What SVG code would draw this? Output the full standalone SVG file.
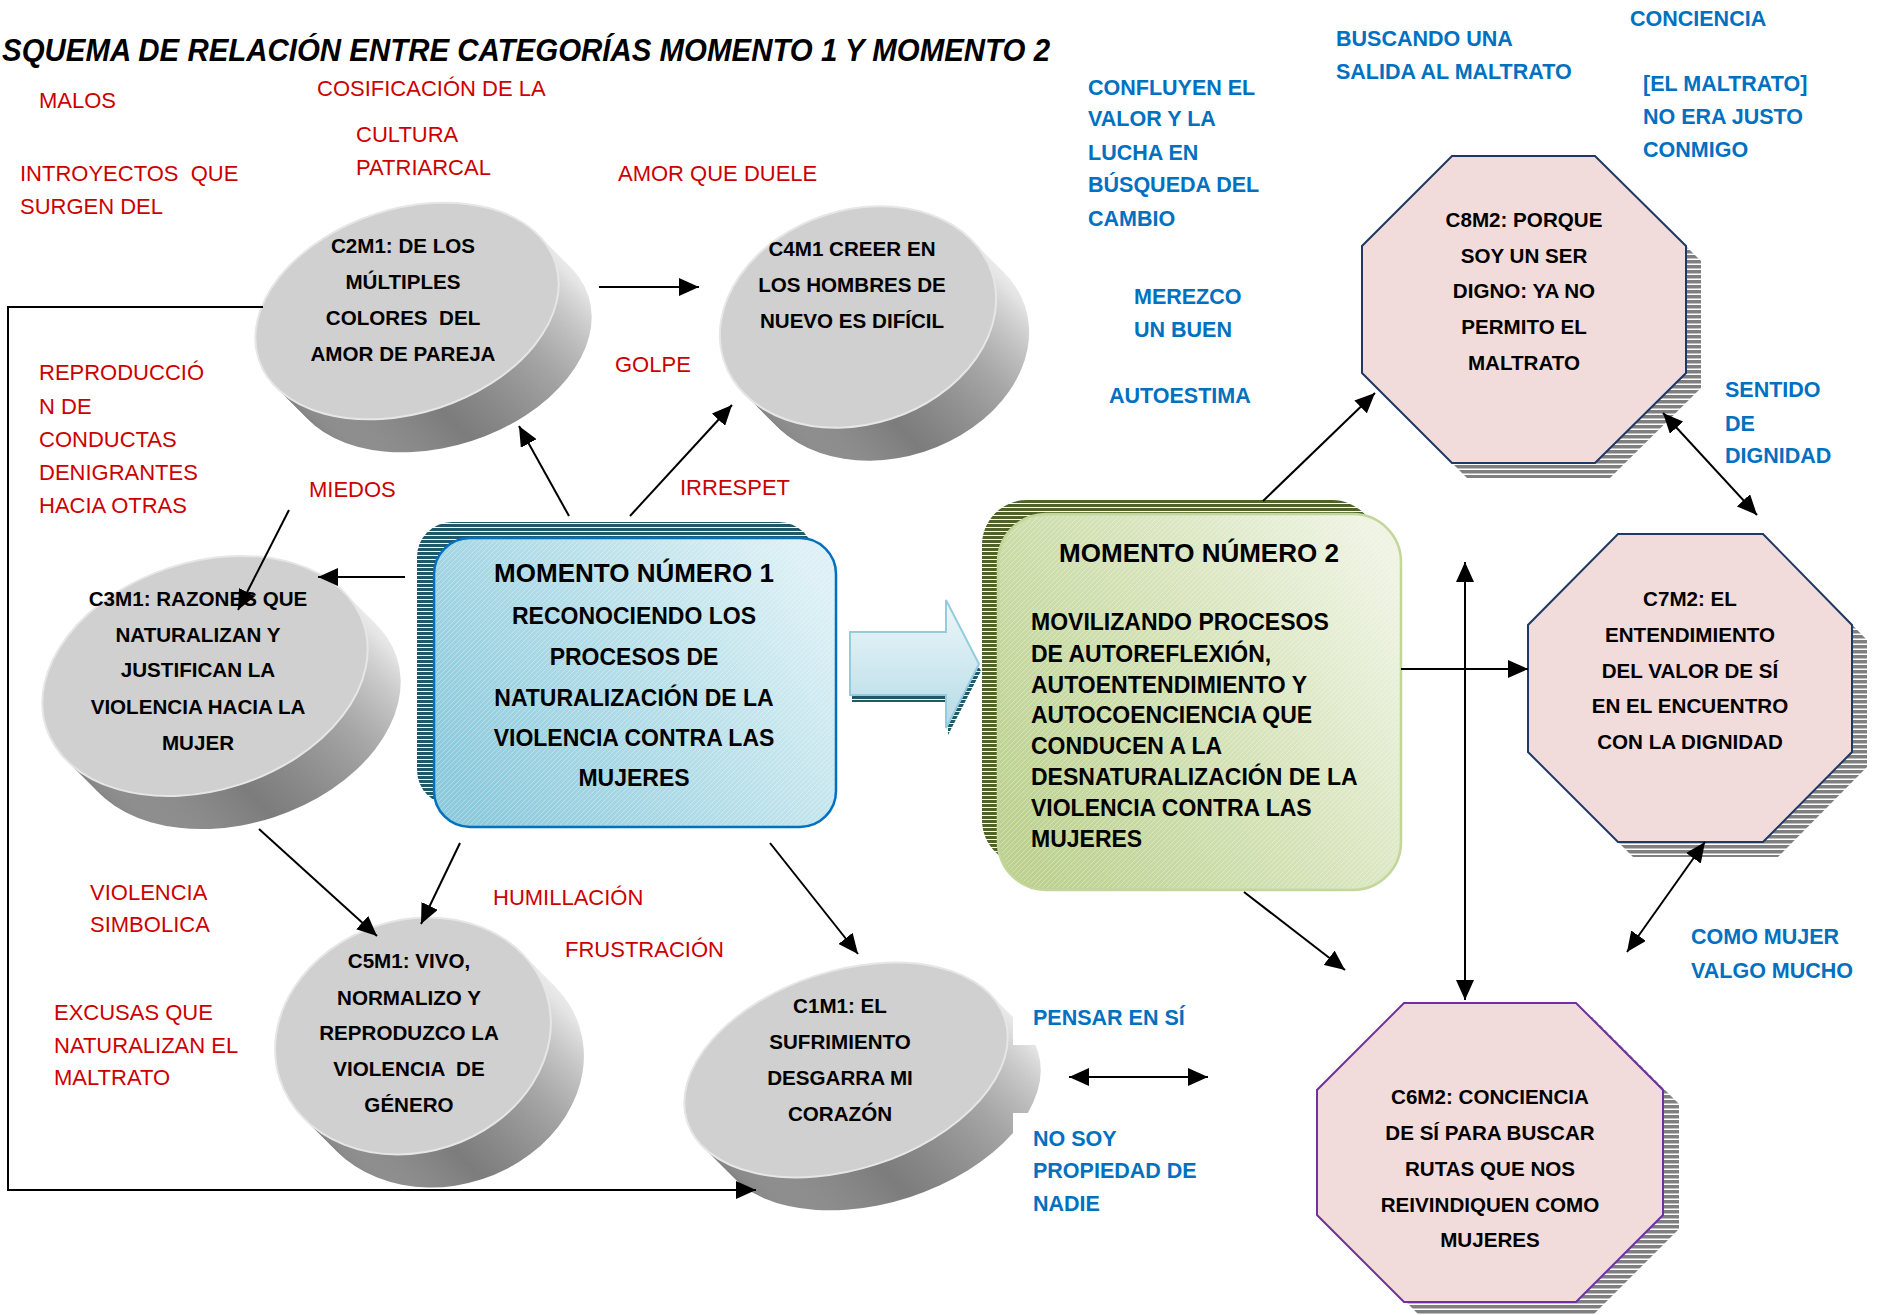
<svg xmlns="http://www.w3.org/2000/svg" xmlns:xlink="http://www.w3.org/1999/xlink" width="1890" height="1315" viewBox="0 0 1890 1315">
<style>
.red{font-family:"Liberation Sans",Arial,sans-serif;font-size:22px;fill:#cc0000;white-space:pre}
.blue{font-family:"Liberation Sans",Arial,sans-serif;font-size:21.5px;font-weight:bold;fill:#0070c0}
.nt{font-family:"Liberation Sans",Arial,sans-serif;font-size:20.6px;font-weight:bold;fill:#000;text-anchor:middle;white-space:pre}
.mt{font-family:"Liberation Sans",Arial,sans-serif;font-size:23px;font-weight:bold;fill:#000}
.mh{font-family:"Liberation Sans",Arial,sans-serif;font-size:26px;font-weight:bold;fill:#000;text-anchor:middle}
.face{fill:#d0d0d0;stroke:#e6e6e6;stroke-width:2}
.side{fill:url(#sideG)}
.oct{fill:#f2dcdb;stroke:#1f3864;stroke-width:2}
.octsh{fill:url(#stripeGray)}
.conn{stroke:#000;stroke-width:2;fill:none}
.one{marker-end:url(#ah)}
.two{marker-start:url(#ah);marker-end:url(#ah)}
</style>
<defs>
<marker id="ah" viewBox="0 0 20 18" refX="20" refY="9" markerWidth="20" markerHeight="18" markerUnits="userSpaceOnUse" orient="auto-start-reverse">
<path d="M0,0 L20,9 L0,18 Z" fill="#000"/>
</marker>
<linearGradient id="sideG" x1="1" y1="0" x2="0.2" y2="1">
<stop offset="0" stop-color="#ffffff"/>
<stop offset="0.3" stop-color="#e4e4e4"/>
<stop offset="0.6" stop-color="#a6a6a6"/>
<stop offset="0.85" stop-color="#7c7c7c"/>
<stop offset="1" stop-color="#9c9c9c"/>
</linearGradient>
<linearGradient id="m1G" x1="0" y1="0.75" x2="1" y2="0.25">
<stop offset="0" stop-color="#8ccadc"/>
<stop offset="0.55" stop-color="#b9e0ea"/>
<stop offset="1" stop-color="#dcf0f5"/>
</linearGradient>
<linearGradient id="m2G" x1="0" y1="0.75" x2="1" y2="0.2">
<stop offset="0" stop-color="#bdd291"/>
<stop offset="0.55" stop-color="#d7e4bb"/>
<stop offset="1" stop-color="#eef3e2"/>
</linearGradient>
<linearGradient id="arrG" x1="0" y1="0" x2="0" y2="1">
<stop offset="0" stop-color="#eef7fa"/>
<stop offset="1" stop-color="#b4dbe6"/>
</linearGradient>
<pattern id="stripeTeal" patternUnits="userSpaceOnUse" width="8" height="4">
<rect width="8" height="4" fill="#215868"/><rect y="3" width="8" height="1" fill="#ffffff"/>
</pattern>
<pattern id="stripeGreen" patternUnits="userSpaceOnUse" width="8" height="4">
<rect width="8" height="4" fill="#4f6228"/><rect y="3" width="8" height="1" fill="#ffffff"/>
</pattern>
<pattern id="stripeGray" patternUnits="userSpaceOnUse" width="8" height="5">
<rect width="8" height="5" fill="#7f7f7f"/><rect y="3.5" width="8" height="1.5" fill="#ffffff"/>
</pattern>
<pattern id="hatch" patternUnits="userSpaceOnUse" width="5" height="5">
<path d="M0,5 L5,0" stroke="#ffffff" stroke-opacity="0.4" stroke-width="0.8"/>
</pattern>
<clipPath id="clipC1"><path d="M0,0 H1013 V1045 H1041 V1113 H1013 V1315 H0 Z"/></clipPath>
<ellipse id="e2" cx="407" cy="311" rx="156" ry="102" transform="rotate(-18 407 311)"/>
<ellipse id="e4" cx="858" cy="317" rx="141" ry="107" transform="rotate(-18 858 317)"/>
<ellipse id="e3" cx="205" cy="676" rx="167" ry="114" transform="rotate(-18 205 676)"/>
<ellipse id="e5" cx="413" cy="1036" rx="140" ry="116" transform="rotate(-18 413 1036)"/>
<ellipse id="e1" cx="846" cy="1070" rx="167" ry="99" transform="rotate(-18 846 1070)"/>
</defs>
<rect width="1890" height="1315" fill="#ffffff"/>

<text x="2" y="61" textLength="1048" lengthAdjust="spacingAndGlyphs" font-family="'Liberation Sans',Arial,sans-serif" font-size="32" font-weight="bold" font-style="italic" fill="#000">SQUEMA DE RELACIÓN ENTRE CATEGORÍAS MOMENTO 1 Y MOMENTO 2</text>

<g id="labels-red">
<text class="red" x="39" y="108">MALOS</text>
<text class="red" x="317" y="96">COSIFICACIÓN DE LA</text>
<text class="red" x="356" y="142">CULTURA</text>
<text class="red" x="356" y="175">PATRIARCAL</text>
<text class="red" x="20" y="181">INTROYECTOS  QUE</text>
<text class="red" x="20" y="214">SURGEN DEL</text>
<text class="red" x="618" y="181">AMOR QUE DUELE</text>
<text class="red" x="615" y="372">GOLPE</text>
<text class="red" x="39" y="380">REPRODUCCIÓ</text>
<text class="red" x="39" y="414">N DE</text>
<text class="red" x="39" y="447">CONDUCTAS</text>
<text class="red" x="39" y="480">DENIGRANTES</text>
<text class="red" x="39" y="513">HACIA OTRAS</text>
<text class="red" x="309" y="497">MIEDOS</text>
<text class="red" x="680" y="495">IRRESPET</text>
<text class="red" x="90" y="900">VIOLENCIA</text>
<text class="red" x="90" y="932">SIMBOLICA</text>
<text class="red" x="493" y="905">HUMILLACIÓN</text>
<text class="red" x="565" y="957">FRUSTRACIÓN</text>
<text class="red" x="54" y="1020">EXCUSAS QUE</text>
<text class="red" x="54" y="1053">NATURALIZAN EL</text>
<text class="red" x="54" y="1085">MALTRATO</text>
</g>

<g id="labels-blue">
<text class="blue" x="1088" y="95">CONFLUYEN EL</text>
<text class="blue" x="1088" y="126">VALOR Y LA</text>
<text class="blue" x="1088" y="160">LUCHA EN</text>
<text class="blue" x="1088" y="192">BÚSQUEDA DEL</text>
<text class="blue" x="1088" y="226">CAMBIO</text>
<text class="blue" x="1336" y="46">BUSCANDO UNA</text>
<text class="blue" x="1336" y="79">SALIDA AL MALTRATO</text>
<text class="blue" x="1630" y="26">CONCIENCIA</text>
<text class="blue" x="1643" y="91">[EL MALTRATO]</text>
<text class="blue" x="1643" y="124">NO ERA JUSTO</text>
<text class="blue" x="1643" y="157">CONMIGO</text>
<text class="blue" x="1134" y="304">MEREZCO</text>
<text class="blue" x="1134" y="337">UN BUEN</text>
<text class="blue" x="1109" y="403">AUTOESTIMA</text>
<text class="blue" x="1725" y="397">SENTIDO</text>
<text class="blue" x="1725" y="431">DE</text>
<text class="blue" x="1725" y="463">DIGNIDAD</text>
<text class="blue" x="1691" y="944">COMO MUJER</text>
<text class="blue" x="1691" y="978">VALGO MUCHO</text>
<text class="blue" x="1033" y="1025">PENSAR EN SÍ</text>
<text class="blue" x="1033" y="1146">NO SOY</text>
<text class="blue" x="1033" y="1178">PROPIEDAD DE</text>
<text class="blue" x="1033" y="1211">NADIE</text>
</g>

<g id="node-c2m1">
<g class="side">
<use href="#e2" x="33" y="33"/><use href="#e2" x="30" y="30"/><use href="#e2" x="27" y="27"/><use href="#e2" x="24" y="24"/><use href="#e2" x="21" y="21"/><use href="#e2" x="18" y="18"/><use href="#e2" x="15" y="15"/><use href="#e2" x="12" y="12"/><use href="#e2" x="9" y="9"/><use href="#e2" x="6" y="6"/><use href="#e2" x="3" y="3"/>
</g>
<use href="#e2" class="face"/>
<text class="nt" x="403" y="253">C2M1: DE LOS</text>
<text class="nt" x="403" y="289">MÚLTIPLES</text>
<text class="nt" x="403" y="325">COLORES  DEL</text>
<text class="nt" x="403" y="361">AMOR DE PAREJA</text>
</g>

<g id="node-c4m1">
<g class="side">
<use href="#e4" x="33" y="33"/><use href="#e4" x="30" y="30"/><use href="#e4" x="27" y="27"/><use href="#e4" x="24" y="24"/><use href="#e4" x="21" y="21"/><use href="#e4" x="18" y="18"/><use href="#e4" x="15" y="15"/><use href="#e4" x="12" y="12"/><use href="#e4" x="9" y="9"/><use href="#e4" x="6" y="6"/><use href="#e4" x="3" y="3"/>
</g>
<use href="#e4" class="face"/>
<text class="nt" x="852" y="256">C4M1 CREER EN</text>
<text class="nt" x="852" y="292">LOS HOMBRES DE</text>
<text class="nt" x="852" y="328">NUEVO ES DIFÍCIL</text>
</g>

<g id="node-c3m1">
<g class="side">
<use href="#e3" x="33" y="33"/><use href="#e3" x="30" y="30"/><use href="#e3" x="27" y="27"/><use href="#e3" x="24" y="24"/><use href="#e3" x="21" y="21"/><use href="#e3" x="18" y="18"/><use href="#e3" x="15" y="15"/><use href="#e3" x="12" y="12"/><use href="#e3" x="9" y="9"/><use href="#e3" x="6" y="6"/><use href="#e3" x="3" y="3"/>
</g>
<use href="#e3" class="face"/>
<text class="nt" x="198" y="606">C3M1: RAZONES QUE</text>
<text class="nt" x="198" y="642">NATURALIZAN Y</text>
<text class="nt" x="198" y="677">JUSTIFICAN LA</text>
<text class="nt" x="198" y="714">VIOLENCIA HACIA LA</text>
<text class="nt" x="198" y="750">MUJER</text>
</g>

<g id="node-c5m1">
<g class="side">
<use href="#e5" x="33" y="33"/><use href="#e5" x="30" y="30"/><use href="#e5" x="27" y="27"/><use href="#e5" x="24" y="24"/><use href="#e5" x="21" y="21"/><use href="#e5" x="18" y="18"/><use href="#e5" x="15" y="15"/><use href="#e5" x="12" y="12"/><use href="#e5" x="9" y="9"/><use href="#e5" x="6" y="6"/><use href="#e5" x="3" y="3"/>
</g>
<use href="#e5" class="face"/>
<text class="nt" x="409" y="968">C5M1: VIVO,</text>
<text class="nt" x="409" y="1005">NORMALIZO Y</text>
<text class="nt" x="409" y="1040">REPRODUZCO LA</text>
<text class="nt" x="409" y="1076">VIOLENCIA  DE</text>
<text class="nt" x="409" y="1112">GÉNERO</text>
</g>

<g id="node-c1m1">
<g class="side" clip-path="url(#clipC1)">
<use href="#e1" x="33" y="33"/><use href="#e1" x="30" y="30"/><use href="#e1" x="27" y="27"/><use href="#e1" x="24" y="24"/><use href="#e1" x="21" y="21"/><use href="#e1" x="18" y="18"/><use href="#e1" x="15" y="15"/><use href="#e1" x="12" y="12"/><use href="#e1" x="9" y="9"/><use href="#e1" x="6" y="6"/><use href="#e1" x="3" y="3"/>
</g>
<use href="#e1" class="face"/>
<text class="nt" x="840" y="1013">C1M1: EL</text>
<text class="nt" x="840" y="1049">SUFRIMIENTO</text>
<text class="nt" x="840" y="1085">DESGARRA MI</text>
<text class="nt" x="840" y="1121">CORAZÓN</text>
</g>

<g id="node-momento1">
<rect x="417" y="522" width="397" height="283" rx="35" fill="url(#stripeTeal)"/>
<rect x="434" y="538" width="402" height="289" rx="36" fill="url(#m1G)" stroke="#0070c0" stroke-width="2.5"/>
<rect x="436" y="540" width="398" height="285" rx="35" fill="url(#hatch)"/>
<text class="mh" x="634" y="582">MOMENTO NÚMERO 1</text>
<text class="mt" x="634" y="624" text-anchor="middle">RECONOCIENDO LOS</text>
<text class="mt" x="634" y="665" text-anchor="middle">PROCESOS DE</text>
<text class="mt" x="634" y="706" text-anchor="middle">NATURALIZACIÓN DE LA</text>
<text class="mt" x="634" y="746" text-anchor="middle">VIOLENCIA CONTRA LAS</text>
<text class="mt" x="634" y="786" text-anchor="middle">MUJERES</text>
</g>

<g id="node-bigarrow">
<polygon points="852,639 948,639 948,607 981,671 948,735 948,702 852,702" fill="url(#stripeTeal)"/>
<polygon points="850,632 946,632 946,600 979,664 946,728 946,695 850,695" fill="url(#arrG)" stroke="#93cddd" stroke-width="2"/>
</g>

<g id="node-momento2">
<rect x="982" y="500" width="395" height="365" rx="45" fill="url(#stripeGreen)"/>
<rect x="998" y="514" width="403" height="376" rx="48" fill="url(#m2G)" stroke="#c3d69b" stroke-width="2.5"/>
<rect x="1000" y="516" width="399" height="372" rx="47" fill="url(#hatch)"/>
<text class="mh" x="1199" y="562">MOMENTO NÚMERO 2</text>
<text class="mt" x="1031" y="630">MOVILIZANDO PROCESOS</text>
<text class="mt" x="1031" y="662">DE AUTOREFLEXIÓN,</text>
<text class="mt" x="1031" y="693">AUTOENTENDIMIENTO Y</text>
<text class="mt" x="1031" y="723">AUTOCOENCIENCIA QUE</text>
<text class="mt" x="1031" y="754">CONDUCEN A LA</text>
<text class="mt" x="1031" y="785">DESNATURALIZACIÓN DE LA</text>
<text class="mt" x="1031" y="816">VIOLENCIA CONTRA LAS</text>
<text class="mt" x="1031" y="847">MUJERES</text>
</g>

<g id="node-c8m2">
<polygon class="octsh" points="1467,171 1610,171 1701,261 1701,388 1610,478 1467,478 1377,388 1377,261"/>
<polygon class="oct" points="1452,156 1595,156 1686,246 1686,373 1595,463 1452,463 1362,373 1362,246"/>
<text class="nt" x="1524" y="227">C8M2: PORQUE</text>
<text class="nt" x="1524" y="263">SOY UN SER</text>
<text class="nt" x="1524" y="298">DIGNO: YA NO</text>
<text class="nt" x="1524" y="334">PERMITO EL</text>
<text class="nt" x="1524" y="370">MALTRATO</text>
</g>

<g id="node-c7m2">
<polygon class="octsh" points="1633,549 1778,549 1867,640 1867,767 1778,857 1633,857 1543,767 1543,640"/>
<polygon class="oct" points="1618,534 1763,534 1852,625 1852,752 1763,842 1618,842 1528,752 1528,625"/>
<text class="nt" x="1690" y="606">C7M2: EL</text>
<text class="nt" x="1690" y="642">ENTENDIMIENTO</text>
<text class="nt" x="1690" y="678">DEL VALOR DE SÍ</text>
<text class="nt" x="1690" y="713">EN EL ENCUENTRO</text>
<text class="nt" x="1690" y="749">CON LA DIGNIDAD</text>
</g>

<g id="node-c6m2">
<polygon class="octsh" points="1420,1017 1592,1017 1679,1104 1679,1229 1592,1316 1420,1316 1333,1229 1333,1104"/>
<polygon class="oct" style="stroke:#7030a0" points="1404,1003 1576,1003 1663,1090 1663,1215 1576,1302 1404,1302 1317,1215 1317,1090"/>
<text class="nt" x="1490" y="1104">C6M2: CONCIENCIA</text>
<text class="nt" x="1490" y="1140">DE SÍ PARA BUSCAR</text>
<text class="nt" x="1490" y="1176">RUTAS QUE NOS</text>
<text class="nt" x="1490" y="1212">REIVINDIQUEN COMO</text>
<text class="nt" x="1490" y="1247">MUJERES</text>
</g>

<g id="connectors">
<path class="conn one" d="M599,287 L699,287"/>
<path class="conn one" d="M569,516 L519,426"/>
<path class="conn one" d="M630,516 L732,405"/>
<path class="conn one" d="M405,577 L318,577"/>
<path class="conn one" d="M289,510 L238,610"/>
<path class="conn one" d="M259,829 L377,936"/>
<path class="conn one" d="M460,843 L421,924"/>
<path class="conn one" d="M770,843 L858,954"/>
<path class="conn one" d="M263,307 L8,307 L8,1190 L756,1190"/>
<path class="conn two" d="M1069,1077 L1208,1077"/>
<path class="conn one" d="M1263,501 L1375,393"/>
<path class="conn two" d="M1663,413 L1757,515"/>
<path class="conn one" d="M1401,669 L1528,669"/>
<path class="conn two" d="M1465,562 L1465,1000"/>
<path class="conn one" d="M1244,892 L1345,970"/>
<path class="conn two" d="M1705,842 L1627,952"/>
</g>
</svg>
